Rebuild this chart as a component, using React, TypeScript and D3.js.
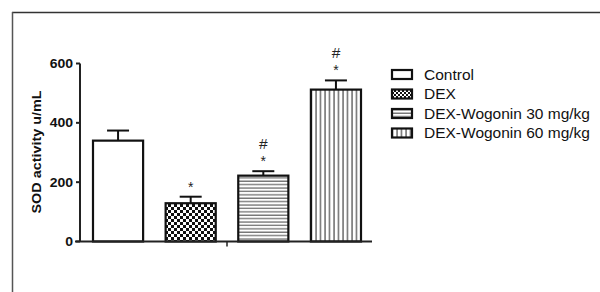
import React from "react";
import * as d3 from "d3";

const categories = ["Control", "DEX", "DEX-Wogonin 30 mg/kg", "DEX-Wogonin 60 mg/kg"];
const values = [340, 129, 222, 512];
const errors = [34, 22, 15, 31];
const stars = [false, true, true, true];
const hashes = [false, false, true, true];
const yTicks = [0, 200, 400, 600];
const patterns = ["none", "checker", "hlines", "vlines"];

export default function App() {
  const W = 600, H = 292;
  const y = d3.scaleLinear().domain([0, 600]).range([241.5, 63.5]);
  const x = d3.scaleBand().domain(categories).range([93, 361]).paddingInner(0.31).paddingOuter(0);
  const fillFor = (p: string) => (p === "none" ? "#fff" : `url(#${p})`);
  const legendY = d3.scalePoint().domain(categories).range([74.5, 133]);
  return (
    <svg width={W} height={H} style={{ position: "absolute", left: 0, top: 0, background: "#fff" }}
      fontFamily="Liberation Sans, Arial, sans-serif">
      <defs>
        <pattern id="checker" width="6" height="6" patternUnits="userSpaceOnUse">
          <rect width="6" height="6" fill="#fff" />
          <rect x="0" y="0" width="3" height="3" fill="#111" />
          <rect x="3" y="3" width="3" height="3" fill="#111" />
        </pattern>
        <pattern id="hlines" width="6" height="3.4" patternUnits="userSpaceOnUse">
          <rect width="6" height="3.4" fill="#fff" />
          <line x1="0" x2="6" y1="1" y2="1" stroke="#555" strokeWidth="1.1" />
        </pattern>
        <pattern id="vlines" width="4.5" height="6" patternUnits="userSpaceOnUse">
          <rect width="4.5" height="6" fill="#fff" />
          <line x1="1" x2="1" y1="0" y2="6" stroke="#222" strokeWidth="1" />
        </pattern>
        <pattern id="checkerL" width="4" height="4" patternUnits="userSpaceOnUse">
          <rect width="4" height="4" fill="#fff" />
          <rect x="0" y="0" width="2" height="2" fill="#111" />
          <rect x="2" y="2" width="2" height="2" fill="#111" />
        </pattern>
      </defs>
      <rect x={0} y={0} width={W} height={H} fill="#fff" />
      {/* frame */}
      <line x1={12} x2={W} y1={12.5} y2={12.5} stroke="#333" strokeWidth={1.5} />
      <line x1={12.5} x2={12.5} y1={12} y2={H} stroke="#555" strokeWidth={1.5} />

      {/* y axis */}
      <line x1={80} x2={80} y1={y(600)} y2={y(0)} stroke="#222" strokeWidth={2} />
      {yTicks.map((t) => (
        <g key={t}>
          <line x1={76} x2={80} y1={y(t)} y2={y(t)} stroke="#222" strokeWidth={2} />
          <text x={73} y={y(t)} dy="0.36em" textAnchor="end" fontSize={12.5} fontWeight="bold" fill="#111"
            transform={`translate(73,0) scale(1.12,1) translate(-73,0)`}>{t}</text>
        </g>
      ))}
      <text transform={`translate(40.5,${152}) rotate(-90)`} textAnchor="middle" fontSize={13.5}
        fontWeight="bold" fill="#111" textLength={123} lengthAdjust="spacingAndGlyphs">SOD activity u/mL</text>

      {/* bars */}
      {categories.map((c, i) => {
        const bx = x(c)!;
        const bw = x.bandwidth();
        const cx = bx + bw / 2;
        const top = y(values[i]);
        const et = y(values[i] + errors[i]);
        return (
          <g key={c}>
            <line x1={cx} x2={cx} y1={top} y2={et} stroke="#111" strokeWidth={2} />
            <line x1={cx - 11} x2={cx + 11} y1={et} y2={et} stroke="#111" strokeWidth={2} />
            <rect x={bx} y={top} width={bw} height={y(0) - top} fill={fillFor(patterns[i])} stroke="#111" strokeWidth={2.2} />
            {stars[i] && (
              <text x={cx} y={et - 5} textAnchor="middle" fontSize={14} fill="#222">*</text>
            )}
            {hashes[i] && (
              <text x={cx} y={et - 22} textAnchor="middle" fontSize={15.5} fill="#222">#</text>
            )}
          </g>
        );
      })}

      {/* x axis */}
      <line x1={75} x2={372} y1={y(0)} y2={y(0)} stroke="#222" strokeWidth={2} />
      <line x1={227} x2={227} y1={y(0)} y2={y(0) + 5} stroke="#222" strokeWidth={1.5} />

      {/* legend */}
      {categories.map((c, i) => {
        const ly = legendY(c)!;
        return (
          <g key={c}>
            <rect x={392} y={ly - 4.5} width={20} height={9}
              fill={patterns[i] === "checker" ? "url(#checkerL)" : fillFor(patterns[i])} stroke="#111" strokeWidth={2.2} />
            <text x={424} y={ly} dy="0.35em" fontSize={15.5} fill="#111">{c}</text>
          </g>
        );
      })}
    </svg>
  );
}
